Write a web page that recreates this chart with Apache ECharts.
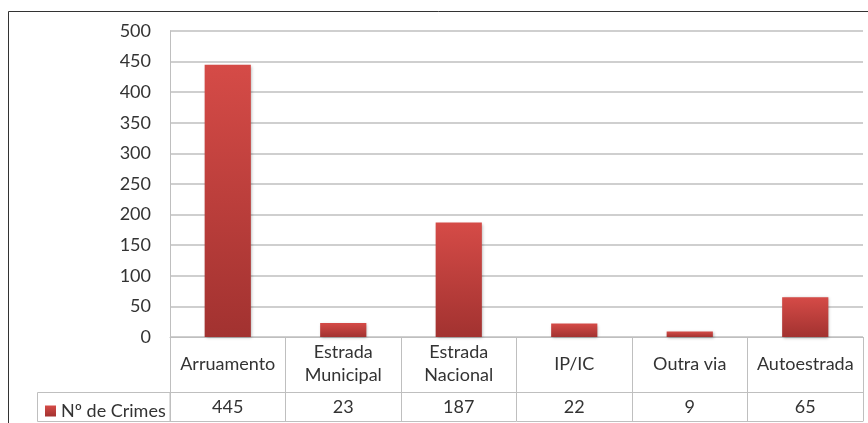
<!DOCTYPE html>
<html>
<head>
<meta charset="utf-8">
<script src="https://cdn.jsdelivr.net/npm/echarts@6/dist/echarts.min.js"></script>
<style>
html, body { margin: 0; padding: 0; background: #fff; }
#main { width: 868px; height: 423px; }
</style>
</head>
<body>
<div id="main"></div>
<script>
// tipos de via e nº de crimes
var categorias = ['Arruamento', 'Estrada\nMunicipal', 'Estrada\nNacional', 'IP/IC', 'Outra via', 'Autoestrada'];
var crimes = [445, 23, 187, 22, 9, 65];
var nomeSerie = 'Nº de Crimes';

var fonte = 'Lato';
var corTexto = '#333333';
var corLinha = '#bfbfbf';

var myChart = echarts.init(document.getElementById('main'));

var option = {
    animation: false,
    textStyle: { fontFamily: fonte },
    grid: { left: 170, right: 5, top: 31, bottom: 86 },
    legend: {
        data: [nomeSerie],
        left: 40,
        top: 397,
        icon: 'rect',
        itemWidth: 11,
        itemHeight: 11,
        itemGap: 5,
        textStyle: { fontFamily: fonte, fontSize: 18, color: corTexto, padding: [0, 0, 0, 0] }
    },
    xAxis: [{
        type: 'category',
        data: categorias,
        position: 'bottom',
        axisLine: { show: true, lineStyle: { color: corLinha, width: 1 } },
        axisTick: { show: true, interval: 0, length: 84, lineStyle: { color: corLinha } },
        axisLabel: {
            interval: 0, fontFamily: fonte, fontSize: 18, color: corTexto,
            verticalAlign: 'middle', margin: 27, lineHeight: 23
        }
    }, {
        type: 'category',
        data: categorias,
        position: 'bottom',
        offset: 55,
        axisLine: { show: true, lineStyle: { color: corLinha, width: 1 } },
        axisTick: { show: false },
        axisLabel: {
            interval: 0, fontFamily: fonte, fontSize: 18, color: corTexto,
            verticalAlign: 'middle', margin: 15,
            formatter: function (v, i) { return String(crimes[i]); }
        }
    }, {
        type: 'category',
        data: categorias,
        position: 'bottom',
        offset: 84,
        axisLine: { show: true, lineStyle: { color: corLinha, width: 1 } },
        axisTick: { show: false },
        axisLabel: { show: false }
    }],
    yAxis: {
        type: 'value',
        min: 0,
        max: 500,
        interval: 50,
        axisLine: { show: true, lineStyle: { color: corLinha } },
        axisTick: { show: false },
        axisLabel: { fontFamily: fonte, fontSize: 18, color: corTexto, margin: 19 },
        splitLine: { show: true, lineStyle: { color: corLinha, width: 1.5 } }
    },
    graphic: [{
        type: 'rect',
        shape: { x: 8.5, y: 11.5, width: 900, height: 450 },
        style: { fill: 'none', stroke: '#333', lineWidth: 1 },
        silent: true
    }, {
        type: 'rect',
        shape: { x: 37.5, y: 392.5, width: 132.5, height: 29 },
        style: { fill: 'none', stroke: corLinha, lineWidth: 1 },
        silent: true
    }],
    series: [{
        name: nomeSerie,
        type: 'bar',
        xAxisIndex: 0,
        barWidth: '40%',
        data: crimes,
        itemStyle: {
            color: new echarts.graphic.LinearGradient(0, 0, 0, 1, [
                { offset: 0, color: '#d54b47' },
                { offset: 1, color: '#a23230' }
            ]),
            shadowColor: 'rgba(0,0,0,0.3)',
            shadowBlur: 3,
            shadowOffsetX: 1,
            shadowOffsetY: 1
        }
    }]
};
myChart.setOption(option);
</script>
</body>
</html>
